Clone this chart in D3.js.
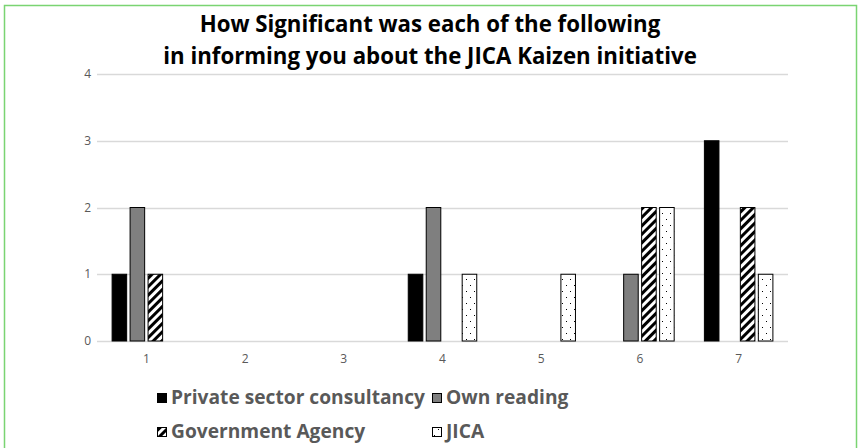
<!DOCTYPE html>
<html>
<head>
<meta charset="utf-8">
<script src="https://cdnjs.cloudflare.com/ajax/libs/d3/7.8.5/d3.min.js"></script>
<style>
html,body{margin:0;padding:0;background:#fff;}
svg{display:block;}
</style>
</head>
<body>
<svg id="chart" width="861" height="448"></svg>
<script>
const categories = ["1","2","3","4","5","6","7"];
const seriesNames = ["Private sector consultancy","Own reading","Government Agency","JICA"];
const privateSector = [1,0,0,1,0,0,3];
const ownReading   = [2,0,0,2,0,1,0];
const government   = [1,0,0,0,0,2,2];
const jica         = [0,0,0,1,1,2,1];
const yTicks = [0,1,2,3,4];
const titleLines = ["How Significant was each of the following","in informing you about the JICA Kaizen initiative"];

const seriesValues = [privateSector, ownReading, government, jica];
const fills = ["#000000","#7f7f7f","url(#hatch)","url(#dots)"];

const svg = d3.select("#chart");
const defs = svg.append("defs");
const hatch = defs.append("pattern").attr("id","hatch").attr("patternUnits","userSpaceOnUse")
  .attr("width",6).attr("height",6).attr("patternTransform","rotate(45)");
hatch.append("rect").attr("width",6).attr("height",6).attr("fill","#fff");
hatch.append("rect").attr("width",3).attr("height",6).attr("fill","#000");
const dots = defs.append("pattern").attr("id","dots").attr("patternUnits","userSpaceOnUse")
  .attr("width",8).attr("height",12);
dots.append("rect").attr("width",8).attr("height",12).attr("fill","#fff");
dots.append("rect").attr("x",2).attr("y",3).attr("width",1).attr("height",1).attr("fill","#000");
dots.append("rect").attr("x",6).attr("y",9).attr("width",1).attr("height",1).attr("fill","#000");

// border
svg.append("rect").attr("x",4.5).attr("y",5.5).attr("width",852).attr("height",460)
  .attr("fill","none").attr("stroke","#7ad472").attr("stroke-width",1.5);

const x0 = d3.scaleBand().domain(categories).range([97,788]).padding(0);
const groupW = 68.5;
const x1 = d3.scaleBand().domain(seriesNames).range([0,groupW]).paddingInner(0.19);
const y = d3.scaleLinear().domain([0,4]).range([341,74]);

// gridlines
svg.append("g").selectAll("line").data(yTicks).join("line")
  .attr("x1",97).attr("x2",788)
  .attr("y1",d=>Math.round(y(d))+0.5).attr("y2",d=>Math.round(y(d))+0.5)
  .attr("stroke","#d9d9d9").attr("stroke-width",1.3);

// y labels
svg.append("g").selectAll("text").data(yTicks).join("text")
  .attr("x",91).attr("y",d=>y(d)+4).attr("text-anchor","end")
  .attr("font-family","'Open Sans', Lato, sans-serif").attr("font-size",12)
  .attr("fill","#595959").text(d=>d);

// x labels
svg.append("g").selectAll("text").data(categories).join("text")
  .attr("x",d=>x0(d)+x0.bandwidth()/2).attr("y",363).attr("text-anchor","middle")
  .attr("font-family","'Open Sans', Lato, sans-serif").attr("font-size",12)
  .attr("fill","#595959").text(d=>d);

// bars
const barData = [];
categories.forEach((c,i)=>{
  seriesNames.forEach((s,j)=>{
    const v = seriesValues[j][i];
    if (v>0) barData.push({c,s,v,j});
  });
});
svg.append("g").selectAll("rect").data(barData).join("rect")
  .attr("x",d=>x0(d.c)+(x0.bandwidth()-groupW)/2+x1(d.s))
  .attr("y",d=>y(d.v))
  .attr("width",x1.bandwidth())
  .attr("height",d=>y(0)-y(d.v))
  .attr("fill",d=>fills[d.j])
  .attr("stroke","#000").attr("stroke-width",1);

// uniform fit: one font size for the group, set from a reference item's width, mild compression
function fitGroup(sel, refIndex, refLen, base, squeeze){
  const nodes = sel.nodes();
  sel.attr("font-size", base);
  const n0 = nodes[refIndex].getComputedTextLength();
  const fs = base*refLen/(squeeze*n0);
  sel.attr("font-size", fs);
  nodes.forEach(nd=>{
    const w = nd.getComputedTextLength();
    d3.select(nd).attr("textLength", w*squeeze).attr("lengthAdjust","spacingAndGlyphs");
  });
}

// title
const titles = svg.append("g").selectAll("text").data(titleLines).join("text")
  .attr("x",430).attr("y",(d,i)=>32+i*32).attr("text-anchor","middle")
  .attr("font-family","'Open Sans', Lato, sans-serif").attr("font-weight","bold")
  .attr("fill","#000").text(d=>d);
fitGroup(titles, 1, 534, 20, 0.95);

// legend
const legPos = [
  {mx:157,my:393,tx:171,ty:404},
  {mx:432,my:393,tx:446,ty:404},
  {mx:157,my:427,tx:171,ty:438},
  {mx:432,my:427,tx:446,ty:438}
];
const leg = svg.append("g").selectAll("g").data(seriesNames).join("g");
leg.append("rect")
  .attr("x",(d,i)=>legPos[i].mx+0.5).attr("y",(d,i)=>legPos[i].my+0.5)
  .attr("width",9).attr("height",9)
  .attr("fill",(d,i)=>fills[i]).attr("stroke","#000").attr("stroke-width",1);
const legText = leg.append("text")
  .attr("x",(d,i)=>legPos[i].tx).attr("y",(d,i)=>legPos[i].ty)
  .attr("font-family","'Open Sans', Lato, sans-serif").attr("font-weight","bold")
  .attr("fill","#595959").text(d=>d);
fitGroup(legText, 0, 254, 18, 0.95);
</script>
</body>
</html>
